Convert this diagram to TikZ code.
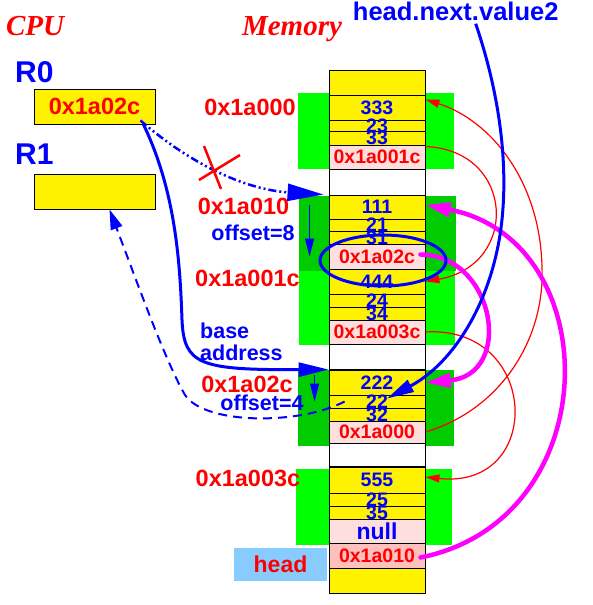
\documentclass[tikz,border=0pt]{standalone}
\usepackage{fontspec}
\setmainfont{Liberation Sans}
\newfontfamily\titlefont{Liberation Serif}
\usetikzlibrary{arrows.meta}
\definecolor{pinkrow}{RGB}{255,222,222}
\definecolor{pinkhead}{RGB}{255,192,192}
\definecolor{brightgreen}{RGB}{0,255,0}
\definecolor{darkgreen}{RGB}{0,204,0}
\definecolor{headblue}{RGB}{136,204,255}
\definecolor{linkpink}{RGB}{255,0,255}
\newcommand\fsz[1]{\fontsize{#1}{#1}\selectfont\bfseries}

\begin{document}
\begin{tikzpicture}[x=1pt,y=-1pt,
	cell/.style={draw=black,line width=0.9pt,minimum width=96pt,inner sep=0pt},
	reg/.style={draw=black,line width=0.9pt,fill=yellow,minimum width=121pt,minimum height=35pt,inner sep=0pt},
	addr/.style={text=red,font=\fsz{23.5},inner sep=0pt},
	note/.style={text=blue,font=\fsz{21.5},inner sep=0pt},
	title/.style={text=red,font=\titlefont\fontsize{29}{29}\selectfont\bfseries\itshape,anchor=base},
	ptr/.style={red,line width=1.2pt,-{Triangle[length=14pt,width=8pt]}},
	link/.style={linkpink,line width=4.5pt,line cap=round,-{Triangle[length=25pt,width=14pt]}},
	offarrow/.style={blue,line width=1.2pt,-{Triangle[length=18pt,width=9pt]}}]
	\useasboundingbox (0,0) rectangle (592,605);
	
	%MEMORY ROWS: name/top/bottom/fill/text colour/size/text
	\def\rows{mtop/70/95/yellow/blue/19.5/{},
		a1/95/120/yellow/blue/19.5/333, a2/120/131/yellow/blue/19.5/23, a3/131/145/yellow/blue/19.5/33,
		ap/145/169/pinkrow/red/19.5/0x1a001c, ga/169/195/white/blue/19.5/{},
		b1/195/219/yellow/blue/19.5/111, b2/219/231/yellow/blue/19.5/21, b3/231/244/yellow/blue/19.5/31,
		bp/244/269/pinkrow/red/19.5/0x1a02c,
		c1/269/294/yellow/blue/19.5/444, c2/294/307/yellow/blue/19.5/24, c3/307/320/yellow/blue/19.5/34,
		cp/320/344/pinkrow/red/19.5/0x1a003c, gb/344/370/white/blue/19.5/{},
		d1/370/395/yellow/blue/19.5/222, d2/395/408/yellow/blue/19.5/22, d3/408/421/yellow/blue/19.5/32,
		dp/421/443/pinkrow/red/19.5/0x1a000, gc/443/467/white/blue/19.5/{},
		e1/467/493/yellow/blue/19.5/555, e2/493/506/yellow/blue/19.5/25, e3/506/519/yellow/blue/19.5/35,
		ep/519/543/pinkrow/blue/23/null, hd/543/568/pinkhead/red/19.5/0x1a010,
		mbot/568/593/yellow/blue/19.5/{}}
	
	%GREEN BLOCKS
	\fill[brightgreen] (298,93) rectangle (454,169);
	\fill[darkgreen] (299,196) rectangle (456,271);
	\fill[brightgreen] (299,271) rectangle (455,345);
	\fill[darkgreen] (298,370) rectangle (454,446);
	\fill[brightgreen] (296,469) rectangle (452,545);
	
	\foreach \n/\t/\b/\f/\c/\s/\txt in \rows{
		\node[cell,fill=\f,minimum height={(\b-\t)*1pt}] (\n) at (377,{(\t+\b)/2}) {};
	}
	\draw[line width=2pt] (d1.north west)--(d1.north east);
	\draw[line width=2pt] (e1.north west)--(e1.north east);
	\foreach \n/\t/\b/\f/\c/\s/\txt in \rows{
		\node[text=\c,font=\fsz{\s},inner sep=0pt] (\n txt) at (\n) {\txt};
	}
	
	%CPU
	\node[title] (cpu) at (35,35) {CPU};
	\node[title] (mem) at (292,35) {Memory};
	\node[text=blue,font=\fsz{30},anchor=west,inner sep=0pt] (r0lbl) at (15,72.5) {R0};
	\node[text=blue,font=\fsz{30},anchor=west,inner sep=0pt] (r1lbl) at (15,154) {R1};
	\node[reg,addr] (r0) at (94.5,106.5) {0x1a02c};
	\node[reg] (r1) at (94.5,191.5) {};
	
	%ADDRESSES
	\node[addr] (la) at (250,107) {0x1a000};
	\node[addr] (lb) at (243.5,206) {0x1a010};
	\node[addr] (lc) at (247.5,278) {0x1a001c};
	\node[addr] (ld) at (247,384) {0x1a02c};
	\node[addr] (le) at (248,478) {0x1a003c};
	\node[fill=headblue,minimum width=93pt,minimum height=33pt,inner sep=0pt,text=red,font=\fsz{23}] (head) at (280.5,564.5) {head};
	
	%NOTES
	\node[note] (off8) at (253,233) {offset=8};
	\node[note] (off4) at (262,403) {offset=4};
	\node[note,align=left,anchor=west] (base) at (200,342) {base\\address};
	\node[text=blue,font=\fsz{25.5},inner sep=0pt] (hnv) at (455.7,11.2) {head.next.value2};
	
	%POINTERS
	\draw[ptr] ([yshift=-2pt]ap.north east) .. controls (515,150) and (520,265) .. (c1.east);
	\draw[ptr] (dp.east) .. controls (500,410) and (545,340) .. (542,267) .. controls (540,180) and (490,120) .. ([yshift=8pt]a1.east);
	\draw[ptr] (cp.east) .. controls (540,325) and (545,490) .. ([yshift=3pt]e1.east);
	\draw[link] ([xshift=-5pt,yshift=2pt]bp.east) .. controls (495,255) and (515,375) .. (d1.east);
	\draw[link] ([xshift=-5pt,yshift=-2pt]hd.east) .. controls (608,520) and (608,240) .. ([yshift=2pt]b1.east);
	
	%REGISTER ACCESS
	\draw[blue,line width=3pt] ([xshift=6pt,yshift=-4pt]bp.center) ellipse [x radius=63pt,y radius=25.5pt];
	\draw[blue,line width=2.5pt,dash pattern=on 8pt off 3pt on 2pt off 3pt on 2pt off 3pt,-{Triangle[length=36pt,width=17pt]}] ([xshift=-15pt,yshift=4pt]r0.south east) .. controls (195,168) and (250,190) .. ([xshift=-5pt]b1.north west);
	\draw[red,line width=2.5pt] (204,146)--(221,189) (199,180)--(240,155);
	\draw[blue,line width=3pt,-{Triangle[length=30pt,width=14pt]}] ([xshift=-12pt]r0.south east) .. controls (175,190) and (180,260) .. (182,320) .. controls (184,365) and (200,370) .. (d1.north west);
	\draw[offarrow] ([xshift=-19pt,yshift=-10pt]b1.north west) -- ([xshift=-19pt]bp.west);
	\draw[offarrow] ([xshift=-14pt,yshift=-5pt]d1.north west) -- ([xshift=-14pt]d2.west);
	\draw[blue,line width=2pt,dash pattern=on 9pt off 6pt,-{Triangle[length=20pt,width=12pt]}] ([xshift=16pt]d2.west) .. controls (300,425) and (205,425) .. (185,395) .. controls (165,360) and (140,290) .. ([xshift=15pt]r1.south);
	\draw[blue,line width=3pt,-{Triangle[length=27pt,width=13pt]}] ([xshift=20pt,yshift=-3pt]hnv.south) .. controls (500,95) and (510,170) .. (500,235) .. controls (488,310) and (450,365) .. ([xshift=10pt,yshift=3pt]d2.center);
\end{tikzpicture}
\end{document}
